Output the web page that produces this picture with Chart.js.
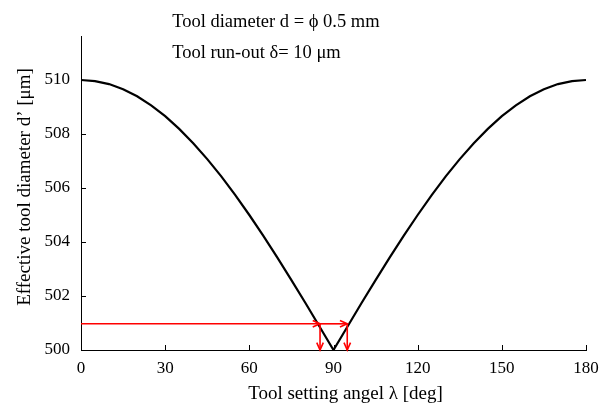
<!DOCTYPE html>
<html>
<head>
<meta charset="utf-8">
<script src="https://cdn.jsdelivr.net/npm/chart.js@4.4.0/dist/chart.umd.min.js"></script>
<style>
  html, body { margin: 0; padding: 0; background: #fff; }
  #wrap { width: 611px; height: 407px; }
</style>
</head>
<body>
<div id="wrap"><canvas id="runoutChart"></canvas></div>
<script>
// Tool setting angle (deg) and effective tool diameter (um)
const angles = [0, 5, 10, 15, 20, 25, 30, 35, 40, 45, 50, 55, 60, 65, 70, 75, 80, 85, 90,
    95, 100, 105, 110, 115, 120, 125, 130, 135, 140, 145, 150, 155, 160, 165, 170, 175, 180];
const diameters = [510.0, 509.96, 509.85, 509.66, 509.4, 509.06, 508.66, 508.19, 507.66, 507.07,
    506.43, 505.74, 505.0, 504.23, 503.42, 502.59, 501.74, 500.87, 500.0,
    500.87, 501.74, 502.59, 503.42, 504.23, 505.0, 505.74, 506.43, 507.07, 507.66,
    508.19, 508.66, 509.06, 509.4, 509.66, 509.85, 509.96, 510.0];

const xTicks = [0, 30, 60, 90, 120, 150, 180];
const yTicks = [500, 502, 504, 506, 508, 510];

const xTitle = 'Tool setting angel \u03BB [deg]';
const yTitle = 'Effective tool diameter d\u2019 [\u03BCm]';

// red arrows: [x1, y1, x2, y2] in data units
const arrows = [
    [0, 500.97, 85.2, 500.97],
    [85.2, 500.97, 94.9, 500.97],
    [85.2, 500.97, 85.2, 500.0],
    [94.9, 500.97, 94.9, 500.0]
];

const notes = [
    { text: 'Tool diameter d = \u03D5 0.5 mm', x: 32.5, y: 512.15 },
    { text: 'Tool run-out \u03B4= 10 \u03BCm', x: 32.5, y: 510.98 }
];

const serif = "'Liberation Serif', 'DejaVu Serif', serif";

// inward ticks, arrows, notes and axis titles
const extrasPlugin = {
    id: 'extras',
    afterDatasetsDraw(chart) {
        const { ctx, scales: { x, y } } = chart;
        ctx.save();
        ctx.strokeStyle = '#000';
        ctx.lineWidth = 1;
        xTicks.forEach(v => {
            const px = Math.round(x.getPixelForValue(v)) + 0.5;
            ctx.beginPath();
            ctx.moveTo(px, y.bottom);
            ctx.lineTo(px, y.bottom - 5);
            ctx.stroke();
        });
        yTicks.forEach(v => {
            const py = Math.round(y.getPixelForValue(v)) + 0.5;
            ctx.beginPath();
            ctx.moveTo(x.left, py);
            ctx.lineTo(x.left + 5, py);
            ctx.stroke();
        });

        ctx.strokeStyle = '#ff0000';
        ctx.lineWidth = 1.6;
        arrows.forEach(a => {
            const x1 = x.getPixelForValue(a[0]), y1 = y.getPixelForValue(a[1]);
            const x2 = x.getPixelForValue(a[2]), y2 = y.getPixelForValue(a[3]);
            const ang = Math.atan2(y2 - y1, x2 - x1);
            ctx.beginPath();
            ctx.moveTo(x1, y1);
            ctx.lineTo(x2, y2);
            ctx.stroke();
            const len = 8, spread = 0.42;
            ctx.beginPath();
            ctx.moveTo(x2 - len * Math.cos(ang - spread), y2 - len * Math.sin(ang - spread));
            ctx.lineTo(x2, y2);
            ctx.lineTo(x2 - len * Math.cos(ang + spread), y2 - len * Math.sin(ang + spread));
            ctx.stroke();
        });

        ctx.fillStyle = '#000';
        ctx.font = '18.5px ' + serif;
        ctx.textBaseline = 'middle';
        ctx.textAlign = 'left';
        notes.forEach(n => {
            ctx.fillText(n.text, x.getPixelForValue(n.x), y.getPixelForValue(n.y));
        });

        // axis titles (the original sits a little off-centre)
        ctx.font = '19px ' + serif;
        ctx.textAlign = 'center';
        ctx.fillText(xTitle, (x.left + x.right) / 2 + 12, x.bottom - 13);
        ctx.translate(y.left + 25, (y.top + y.bottom) / 2 - 6);
        ctx.rotate(-Math.PI / 2);
        ctx.fillText(yTitle, 0, 0);
        ctx.restore();
    }
};

new Chart(document.getElementById('runoutChart'), {
    type: 'line',
    data: {
        labels: angles,
        datasets: [{
            data: angles.map((a, i) => ({ x: a, y: diameters[i] })),
            borderColor: '#000',
            borderWidth: 2.2,
            pointRadius: 0,
            tension: 0,
            fill: false
        }]
    },
    options: {
        responsive: true,
        maintainAspectRatio: false,
        animation: false,
        layout: { padding: { top: 36, right: 25, left: 0, bottom: 0 } },
        plugins: {
            legend: { display: false },
            tooltip: { enabled: false }
        },
        scales: {
            x: {
                type: 'linear',
                min: 0,
                max: 180,
                afterBuildTicks: s => { s.ticks = xTicks.map(v => ({ value: v })); },
                afterFit: s => { s.height = 57; },
                grid: { display: false, drawTicks: false },
                border: { display: true, color: '#000', width: 1 },
                ticks: { color: '#000', padding: 8, maxRotation: 0, font: { family: serif, size: 17 } },
                title: { display: false }
            },
            y: {
                type: 'linear',
                min: 500,
                max: 511.63,
                afterBuildTicks: s => { s.ticks = yTicks.map(v => ({ value: v })); },
                afterFit: s => { s.width = 81; },
                grid: { display: false, drawTicks: false },
                border: { display: true, color: '#000', width: 1 },
                ticks: { color: '#000', padding: 11, font: { family: serif, size: 17 } },
                title: { display: false }
            }
        }
    },
    plugins: [extrasPlugin]
});
</script>
</body>
</html>
